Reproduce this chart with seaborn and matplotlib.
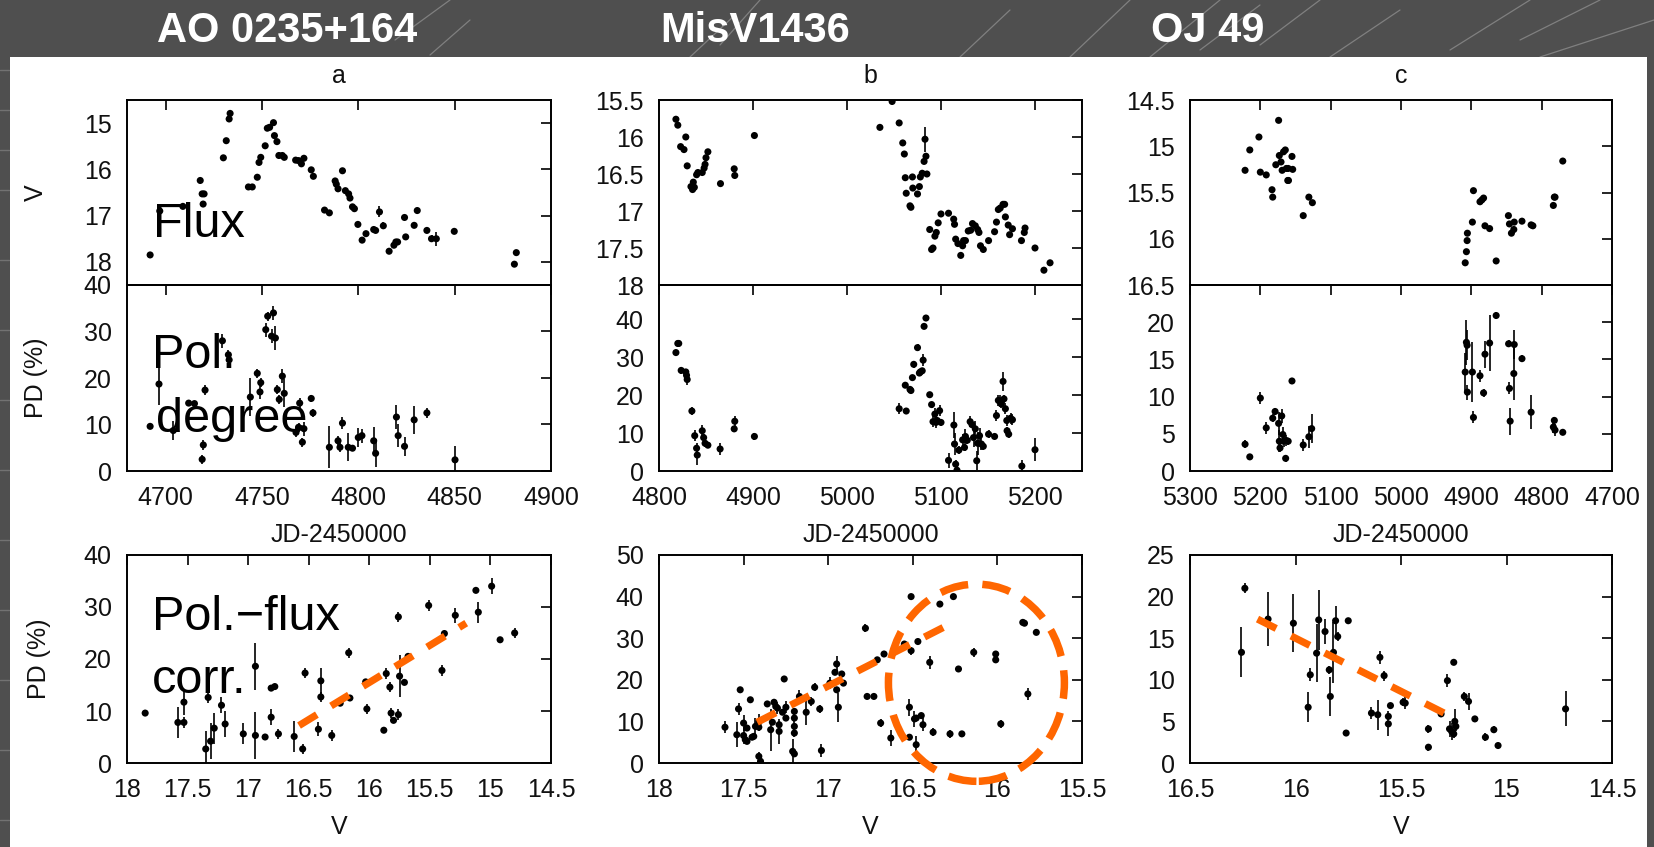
import matplotlib
matplotlib.use("Agg")
import matplotlib.pyplot as plt
import seaborn as sns
from matplotlib import font_manager
from matplotlib.patches import Ellipse, Rectangle
from matplotlib.lines import Line2D
from matplotlib.ticker import FuncFormatter, MultipleLocator

# ---------------- data ----------------
source_names = ["AO 0235+164", "MisV1436", "OJ 49"]
panel_letters = ["a", "b", "c"]

# Panel a (AO 0235+164) light curve
a_flux_jd = [4692, 4697, 4709, 4718, 4719, 4719.5, 4720, 4730, 4731.5, 4733,
             4733.5, 4743, 4745, 4747.6, 4748.5, 4749.4, 4751.7, 4752.8, 4754, 4756,
             4756.5, 4757.8, 4758.8, 4760.6, 4761.6, 4767.5, 4769, 4770.5, 4771.8, 4775.6,
             4776.7, 4782.5, 4785, 4788, 4788.6, 4789.5, 4791.8, 4793.3, 4795, 4795.7,
             4797, 4798, 4799.8, 4802, 4804, 4808, 4809, 4811, 4813, 4816,
             4818.5, 4819.5, 4820.4, 4824, 4824.6, 4829, 4830.6, 4835.6, 4838, 4840.5,
             4849.8, 4881, 4882]
a_flux_v = [17.85, 16.9, 16.8, 16.24, 16.53, 16.75, 16.53, 15.75, 15.38, 14.91,
            14.79, 16.38, 16.38, 16.17, 15.85, 15.74, 15.49, 15.11, 15.09, 14.99,
            15.27, 15.40, 15.70, 15.70, 15.74, 15.80, 15.81, 15.88, 15.76, 16.01,
            16.15, 16.88, 16.94, 16.25, 16.32, 16.42, 16.03, 16.46, 16.53, 16.62,
            16.81, 16.85, 17.19, 17.53, 17.39, 17.30, 17.32, 16.92, 17.22, 17.77,
            17.64, 17.57, 17.57, 17.04, 17.46, 17.21, 16.89, 17.32, 17.50, 17.50,
            17.34, 18.05, 17.80]
a_flux_err = [0.03, 0.03, 0.03, 0.03, 0.03, 0.03, 0.03, 0.03, 0.03, 0.03,
              0.03, 0.03, 0.03, 0.03, 0.03, 0.03, 0.03, 0.03, 0.03, 0.03,
              0.03, 0.03, 0.03, 0.03, 0.03, 0.03, 0.03, 0.03, 0.03, 0.03,
              0.03, 0.03, 0.03, 0.07, 0.03, 0.03, 0.03, 0.03, 0.03, 0.03,
              0.03, 0.03, 0.03, 0.03, 0.03, 0.03, 0.03, 0.12, 0.08, 0.03,
              0.03, 0.03, 0.03, 0.03, 0.03, 0.03, 0.03, 0.03, 0.08, 0.15,
              0.03, 0.03, 0.03]

a_pd_jd = [4692, 4696.6, 4704, 4712, 4715, 4719, 4719.6, 4720.5, 4729.5, 4732.6,
           4733, 4744, 4747.6, 4749, 4749.4, 4752, 4753, 4755, 4756, 4757,
           4758, 4759, 4760.6, 4761.6, 4767.7, 4769, 4769.6, 4771, 4771.8, 4775.6,
           4776.5, 4785, 4789.5, 4790.5, 4791.8, 4794.8, 4797, 4800, 4801.9, 4808,
           4809, 4819.8, 4820.7, 4824, 4829, 4835.6, 4850.2]
a_pd = [9.6, 18.7, 8.7, 14.6, 14.5, 2.5, 5.6, 17.4, 28.0, 25.0,
        23.9, 15.9, 21.0, 17.0, 19.0, 30.4, 33.3, 29.0, 34.0, 28.6,
        17.5, 15.4, 20.4, 16.7, 8.3, 9.4, 14.6, 6.2, 9.1, 15.6,
        12.5, 5.1, 6.5, 5.1, 10.3, 5.1, 4.9, 7.2, 7.6, 6.5,
        3.8, 11.6, 7.6, 5.3, 11.0, 12.5, 2.4]
a_pd_err = [0.5, 4.5, 2.0, 0.5, 0.5, 1.0, 1.0, 1.0, 1.5, 1.0,
            1.0, 4.0, 1.0, 1.5, 1.0, 1.5, 1.0, 1.5, 1.5, 2.5,
            1.0, 1.0, 1.5, 3.0, 1.0, 1.0, 1.0, 1.0, 1.5, 0.8,
            0.8, 4.5, 1.0, 1.0, 1.3, 3.0, 0.5, 2.0, 1.5, 3.0,
            3.0, 2.5, 2.5, 2.0, 3.0, 1.0, 3.0]

# Panel b (MisV1436) light curve
b_flux_jd = [4818, 4820, 4823, 4826.6, 4828.5, 4830, 4834, 4835.7, 4836.5, 4837.6,
             4840, 4841.4, 4846, 4848, 4849, 4850, 4852, 4865.4, 4880, 4880.6,
             4901.5, 5035, 5048, 5055.5, 5059.3, 5061, 5062, 5063, 5067, 5068,
             5069.6, 5070, 5075, 5077, 5078, 5080, 5082, 5083, 5084, 5085,
             5088, 5090, 5091.5, 5093.5, 5095, 5097, 5100, 5108, 5113.5, 5114.4,
             5115.6, 5118, 5121, 5123, 5124, 5126, 5129, 5131.6, 5133.5, 5136.5,
             5139, 5140.4, 5142, 5145, 5150.6, 5157, 5159, 5161, 5163, 5166,
             5167.7, 5168.5, 5171.5, 5173, 5176, 5185.6, 5188.6, 5189.4, 5200, 5209.5,
             5216]
b_flux_v = [15.76, 15.84, 16.13, 16.17, 16.00, 16.39, 16.67, 16.71, 16.61, 16.68,
            16.51, 16.48, 16.48, 16.42, 16.37, 16.28, 16.20, 16.63, 16.43, 16.52,
            15.98, 15.87, 15.52, 15.81, 16.08, 16.23, 16.55, 16.76, 16.93, 16.95,
            16.54, 16.69, 16.77, 16.67, 16.54, 16.49, 16.33, 16.03, 16.26, 16.50,
            17.25, 17.52, 17.50, 17.34, 17.29, 17.16, 17.04, 17.03, 17.11, 17.18,
            17.38, 17.44, 17.60, 17.47, 17.40, 17.40, 17.27, 17.26, 17.17, 17.20,
            17.25, 17.29, 17.47, 17.52, 17.40, 17.28, 17.15, 16.98, 16.96, 16.91,
            16.91, 17.08, 17.19, 17.32, 17.24, 17.40, 17.29, 17.23, 17.50, 17.80,
            17.70]
b_flux_err = [0.02, 0.02, 0.02, 0.02, 0.02, 0.02, 0.02, 0.02, 0.02, 0.02,
              0.02, 0.02, 0.02, 0.02, 0.02, 0.02, 0.02, 0.02, 0.02, 0.02,
              0.02, 0.02, 0.02, 0.02, 0.02, 0.02, 0.02, 0.02, 0.02, 0.02,
              0.02, 0.02, 0.02, 0.02, 0.02, 0.02, 0.02, 0.17, 0.02, 0.02,
              0.02, 0.02, 0.02, 0.02, 0.02, 0.02, 0.02, 0.02, 0.02, 0.02,
              0.02, 0.02, 0.02, 0.02, 0.02, 0.02, 0.02, 0.02, 0.02, 0.02,
              0.02, 0.02, 0.02, 0.02, 0.02, 0.02, 0.02, 0.02, 0.02, 0.02,
              0.02, 0.02, 0.02, 0.02, 0.02, 0.02, 0.02, 0.02, 0.02, 0.02,
              0.02]

b_pd_jd = [4818, 4820, 4821, 4823.6, 4828.5, 4829.3, 4830, 4835, 4838, 4840,
           4840.7, 4846, 4847.5, 4849, 4852, 4865, 4880, 4880.6, 4901.5, 5055.5,
           5062, 5063, 5067, 5068, 5069.6, 5071, 5075, 5077, 5078, 5080,
           5081, 5082, 5084, 5088, 5090, 5091.5, 5093.5, 5094.6, 5096, 5098.5,
           5100, 5108, 5113.7, 5114.4, 5115.6, 5117, 5119, 5123, 5125, 5126,
           5128, 5131, 5133, 5134.6, 5136.5, 5138, 5139, 5141, 5143, 5145,
           5150.6, 5157, 5159, 5161, 5163, 5164, 5166, 5167, 5168.5, 5170,
           5170.3, 5172, 5174, 5176, 5186, 5200]
b_pd = [31.2, 33.6, 33.6, 26.5, 26.1, 25.2, 24.1, 15.8, 9.3, 6.0,
        4.2, 10.6, 8.8, 7.3, 6.8, 5.8, 11.1, 13.1, 9.1, 16.4,
        22.6, 15.8, 21.5, 21.2, 24.6, 28.1, 32.5, 25.8, 26.1, 26.4,
        29.2, 38.1, 40.3, 20.1, 17.5, 13.0, 15.0, 12.8, 13.3, 15.9,
        12.8, 2.8, 12.1, 7.1, 1.8, 0.2, 5.5, 8.2, 6.2, 9.1,
        8.1, 13.0, 12.2, 8.8, 11.1, 2.7, 7.3, 9.3, 7.1, 6.5,
        9.7, 9.1, 14.6, 18.6, 18.4, 17.7, 23.6, 19.0, 16.4, 13.3,
        10.6, 9.7, 13.9, 13.5, 1.3, 5.6]
b_pd_err = [0.5, 0.5, 0.5, 1.0, 0.8, 1.0, 1.5, 1.0, 1.5, 1.5,
            2.5, 1.5, 1.0, 1.0, 0.8, 1.5, 0.5, 1.5, 1.0, 1.5,
            0.5, 0.5, 0.5, 0.5, 0.5, 1.0, 1.0, 0.8, 0.8, 0.8,
            1.5, 0.8, 0.8, 0.8, 0.8, 1.5, 1.5, 1.5, 1.0, 1.5,
            1.0, 2.0, 3.5, 3.0, 1.0, 1.0, 1.0, 1.5, 1.0, 2.0,
            1.0, 1.5, 1.0, 2.5, 2.0, 2.5, 3.0, 2.0, 1.5, 1.0,
            1.0, 0.5, 1.5, 1.5, 1.5, 1.0, 2.5, 1.0, 1.5, 1.5,
            1.0, 1.0, 1.5, 1.5, 1.5, 3.0]

# Panel c (OJ 49) light curve
c_flux_jd = [5221.7, 5215, 5202, 5200, 5191.6, 5183.4, 5182.4, 5178, 5174, 5173,
             5170.6, 5169, 5167, 5164.5, 5163, 5160.4, 5161, 5160, 5155, 5154,
             5139, 5131, 5126, 4908.7, 4907, 4906, 4905.6, 4898.5, 4897, 4887.7,
             4885, 4882.6, 4880.6, 4874, 4864.7, 4847.3, 4845.8, 4843, 4839, 4839.6,
             4828, 4815, 4812.5, 4783.4, 4782, 4781, 4770]
c_flux_v = [15.26, 15.04, 14.90, 15.28, 15.31, 15.47, 15.55, 15.20, 14.72, 15.10,
            15.17, 15.26, 15.06, 15.04, 15.24, 15.24, 15.37, 15.37, 15.11, 15.25,
            15.75, 15.55, 15.61, 16.26, 16.14, 16.02, 15.94, 15.82, 15.48, 15.60,
            15.58, 15.56, 15.86, 15.89, 16.24, 15.75, 15.84, 15.94, 15.82, 15.90,
            15.81, 15.85, 15.86, 15.64, 15.55, 15.55, 15.16]

c_pd_jd = [5221.7, 5215, 5200, 5191.6, 5182.4, 5179, 5174, 5173, 5172, 5169.6,
           5168, 5167, 5164, 5163, 5160.4, 5155, 5139, 5131, 5127, 4908.7,
           4907, 4906, 4905.6, 4898.5, 4897, 4887.7, 4882.6, 4880.6, 4874, 4864.7,
           4847, 4845.8, 4844.8, 4839, 4839.6, 4828, 4815, 4783.4, 4782, 4781,
           4770]
c_pd = [3.6, 1.9, 9.8, 5.8, 7.1, 8.0, 6.4, 4.0, 3.1, 7.4,
        4.9, 4.0, 1.7, 4.1, 4.0, 12.1, 3.5, 4.6, 5.7, 13.3,
        17.3, 16.9, 10.6, 13.3, 7.2, 12.8, 10.5, 15.7, 17.2, 20.9,
        17.1, 11.1, 6.7, 17.0, 13.1, 15.1, 7.9, 5.9, 6.8, 5.5,
        5.2]
c_pd_err = [0.5, 0.3, 0.8, 0.8, 0.5, 0.5, 1.5, 1.5, 0.5, 1.0,
            1.0, 0.8, 0.5, 0.8, 0.5, 0.3, 0.8, 1.5, 2.0, 2.5,
            3.0, 2.0, 1.0, 4.0, 0.8, 0.8, 0.5, 1.8, 3.8, 0.5,
            0.5, 0.8, 1.8, 2.0, 3.5, 0.5, 2.3, 0.8, 0.5, 0.8,
            0.3]

# Bottom row: PD versus V
a_corr_v = [17.85, 17.58, 17.53, 17.53, 17.35, 17.33, 17.31, 17.28, 17.22, 17.19,
            17.04, 16.94, 16.94, 16.86, 16.81, 16.81, 16.78, 16.75, 16.62, 16.55,
            16.53, 16.42, 16.40, 16.40, 16.31, 16.24, 16.17, 16.16, 16.03, 16.02,
            15.88, 15.86, 15.83, 15.82, 15.80, 15.76, 15.76, 15.75, 15.71, 15.68,
            15.51, 15.40, 15.38, 15.29, 15.12, 15.10, 14.99, 14.92, 14.80]
a_corr_pd = [9.6, 7.8, 7.8, 11.7, 2.7, 12.6, 4.2, 6.7, 11.1, 7.5,
             5.6, 18.6, 5.3, 5.0, 8.8, 14.4, 14.7, 5.6, 5.1, 2.7,
             17.3, 6.5, 15.8, 12.7, 5.3, 11.5, 21.2, 12.5, 15.6, 10.4,
             6.3, 17.2, 14.6, 9.6, 8.2, 9.3, 28.1, 16.7, 15.5, 20.5,
             30.3, 17.8, 24.9, 28.4, 33.2, 29.0, 34.0, 23.7, 25.0]
a_corr_err = [0.5, 3.0, 1.0, 2.5, 3.5, 1.0, 3.5, 3.0, 1.5, 2.5,
              2.0, 4.5, 4.5, 0.5, 1.5, 0.5, 0.5, 1.0, 3.0, 1.0,
              1.0, 1.3, 2.5, 1.0, 1.0, 0.5, 1.0, 0.5, 0.5, 1.0,
              0.5, 1.0, 1.0, 1.0, 0.5, 1.0, 1.0, 4.0, 0.5, 0.5,
              1.0, 1.0, 0.5, 1.5, 0.5, 2.0, 1.5, 0.5, 1.0]

b_corr_v = [17.61, 17.54, 17.53, 17.52, 17.50, 17.50, 17.49, 17.48, 17.48, 17.46,
            17.45, 17.44, 17.43, 17.41, 17.41, 17.41, 17.40, 17.36, 17.34, 17.33,
            17.32, 17.31, 17.30, 17.29, 17.29, 17.27, 17.26, 17.25, 17.25, 17.21,
            17.20, 17.20, 17.20, 17.20, 17.20, 17.17, 17.13, 17.10, 17.08, 17.05,
            17.04, 16.99, 16.96, 16.95, 16.95, 16.94, 16.92, 16.91, 16.78, 16.77,
            16.73, 16.71, 16.69, 16.67, 16.63, 16.55, 16.52, 16.52, 16.51, 16.51,
            16.49, 16.48, 16.48, 16.47, 16.45, 16.44, 16.40, 16.38, 16.34, 16.28,
            16.26, 16.23, 16.21, 16.14, 16.01, 16.01, 15.98, 15.85, 15.84, 15.82,
            15.77]
b_corr_pd = [8.6, 6.8, 13.0, 17.6, 9.6, 6.6, 5.6, 8.4, 5.2, 15.2,
             6.2, 6.4, 8.8, 8.6, 9.8, 1.6, 0.4, 14.2, 8.0, 9.8,
             14.6, 13.6, 13.2, 9.2, 7.6, 12.2, 20.2, 10.8, 13.4, 2.8,
             2.2, 12.4, 10.8, 8.8, 7.2, 16.0, 12.2, 14.8, 18.2, 13.0,
             3.0, 19.2, 21.8, 23.8, 17.6, 13.4, 21.4, 19.2, 32.4, 16.0,
             16.0, 24.8, 9.6, 26.2, 6.0, 28.6, 13.4, 6.2, 40.0, 27.0,
             10.6, 10.8, 4.4, 29.2, 11.4, 9.2, 24.2, 7.4, 38.2, 7.0,
             40.0, 22.6, 7.0, 26.6, 26.2, 24.8, 9.4, 33.8, 33.6, 16.6,
             31.4]
b_corr_err = [1.5, 3.0, 1.5, 0.5, 2.0, 2.0, 0.5, 0.5, 0.5, 0.5,
              0.5, 0.5, 2.0, 0.5, 2.0, 1.0, 0.5, 0.5, 5.0, 0.5,
              0.5, 0.5, 1.5, 0.5, 3.0, 0.5, 0.8, 0.5, 1.5, 3.0,
              0.5, 0.5, 1.0, 1.0, 1.0, 1.5, 3.0, 1.0, 1.0, 1.0,
              1.5, 1.5, 0.5, 2.0, 0.5, 3.5, 0.5, 0.5, 1.0, 0.5,
              0.5, 0.5, 1.0, 0.5, 2.0, 0.5, 2.0, 0.5, 0.5, 1.0,
              2.0, 0.5, 2.0, 0.5, 0.5, 1.5, 1.5, 1.0, 0.5, 1.0,
              0.5, 0.5, 0.5, 1.0, 0.5, 0.5, 1.0, 0.5, 0.5, 1.5,
              0.5]

c_corr_v = [16.256, 16.24, 16.13, 16.01, 15.94, 15.93, 15.90, 15.89, 15.86, 15.84,
            15.835, 15.82, 15.81, 15.80, 15.76, 15.75, 15.64, 15.61, 15.60, 15.58,
            15.56, 15.56, 15.55, 15.49, 15.48, 15.37, 15.37, 15.31, 15.28, 15.27,
            15.26, 15.25, 15.25, 15.245, 15.24, 15.20, 15.18, 15.15, 15.10, 15.06,
            15.04, 14.72]
c_corr_pd = [13.3, 21.0, 17.3, 16.8, 6.7, 10.6, 13.2, 17.2, 15.8, 11.2,
             8.0, 13.3, 17.1, 15.2, 3.6, 17.1, 6.0, 5.8, 12.7, 10.5,
             5.6, 4.7, 6.9, 7.3, 7.2, 4.1, 1.9, 5.9, 9.9, 4.1,
             3.8, 12.1, 3.5, 5.0, 4.4, 8.0, 7.4, 5.3, 3.1, 4.0,
             2.1, 6.5]
c_corr_err = [3.0, 0.6, 3.2, 3.5, 1.8, 0.8, 3.5, 3.6, 1.5, 0.5,
              2.3, 3.7, 1.8, 0.5, 0.4, 0.3, 0.7, 1.8, 0.8, 0.6,
              0.3, 1.5, 0.3, 0.5, 0.7, 0.5, 0.4, 0.3, 0.8, 1.0,
              1.0, 0.3, 0.5, 1.5, 0.5, 0.5, 1.0, 0.3, 0.5, 0.4,
              0.3, 2.1]

# orange trend lines (end points) and highlighted region
a_trend_v = [16.58, 15.20]
a_trend_pd = [7.2, 26.9]
b_trend_v = [17.42, 16.29]
b_trend_pd = [9.8, 33.2]
c_trend_v = [16.18, 15.28]
c_trend_pd = [17.3, 5.8]
b_circle_center = (16.124, 19.3)
b_circle_size = (1.04, 47.4)

# tick values
a_flux_ticks = [15, 16, 17, 18]
b_flux_ticks = [15.5, 16, 16.5, 17, 17.5, 18]
c_flux_ticks = [14.5, 15, 15.5, 16, 16.5]
a_pd_ticks = [0, 10, 20, 30, 40]
b_pd_ticks = [0, 10, 20, 30, 40]
c_pd_ticks = [0, 5, 10, 15, 20]

overlay_texts = ["Flux", "Pol.", "degree", "Pol.\u2212flux", "corr."]

# ---------------- style ----------------
W, H = 1654, 847
sns.set_theme(style="white")
plt.rcParams["font.family"] = ["Liberation Sans", "DejaVu Sans"]
plt.rcParams["axes.linewidth"] = 1.4
plt.rcParams["axes.edgecolor"] = "black"

ORANGE = "#FF6600"
TXT = "#111111"
TICK_FS = 18
LABEL_FS = 18

fig = plt.figure(figsize=(W / 100, H / 100), dpi=100)
fig.patch.set_facecolor("#4f4f4f")

# decorative streaks of the slide background
streaks = [(395, 40, 450, 0), (430, 55, 470, 20), (690, 57, 735, 15), (720, 45, 760, 0),
           (960, 57, 1010, 10), (1070, 57, 1130, 0), (1150, 57, 1220, 0),
           (1200, 50, 1260, 5), (1260, 45, 1320, 0), (1330, 57, 1400, 10),
           (1450, 50, 1530, 0), (1540, 57, 1654, 20), (1520, 40, 1600, 0)]
for x0, y0, x1, y1 in streaks:
    fig.add_artist(Line2D([x0 / W, x1 / W], [1 - y0 / H, 1 - y1 / H],
                          transform=fig.transFigure, color="#a8a8a8",
                          lw=0.9, alpha=0.55, zorder=0))
for yy in [70, 110, 150, 190, 260, 330, 400, 470, 540, 610, 680, 750, 820]:
    fig.add_artist(Line2D([0, 9 / W], [1 - yy / H, 1 - yy / H],
                          transform=fig.transFigure, color="#8a8a8a", lw=1, alpha=0.6, zorder=0))

fig.add_artist(Rectangle((10 / W, 0), (1647 - 10) / W, (H - 57) / H,
                         transform=fig.transFigure, facecolor="white",
                         edgecolor="none", zorder=0))

# source titles
title_family = ["Liberation Sans", "DejaVu Sans"]
title_size = 30
for cand in ["Liberation Sans Narrow", "DejaVu Sans Condensed"]:
    try:
        font_manager.findfont(font_manager.FontProperties(family=cand),
                              fallback_to_default=False)
        title_family = [cand, "Liberation Sans"]
        title_size = 34
        break
    except Exception:
        pass
for name, cx in zip(source_names, [287, 755, 1208]):
    fig.text(cx / W, 1 - 31 / H, name, color="white", fontsize=title_size,
             family=title_family, ha="center", va="center", weight="bold")


def frac(l, t, r, b):
    return [l / W, 1 - b / H, (r - l) / W, (b - t) / H]


cols = [(127, 551), (659, 1082), (1190, 1612)]
fmt = FuncFormatter(lambda v, p: "%g" % v)


def style(ax, show_xlabels=True):
    ax.set_facecolor("none")
    ax.tick_params(direction="in", length=7, width=1.2, top=True, right=True,
                   labelsize=TICK_FS, pad=11, colors="black", labelcolor=TXT,
                   labelbottom=show_xlabels)
    ax.xaxis.set_major_formatter(fmt)
    ax.yaxis.set_major_formatter(fmt)
    for s in ax.spines.values():
        s.set_linewidth(1.4)
        s.set_color("black")


def draw_points(ax, x, y, err):
    if err is not None:
        ax.errorbar(x, y, yerr=err, fmt="none", ecolor="black", elinewidth=1.2,
                    capsize=0, zorder=2)
    sns.scatterplot(x=x, y=y, ax=ax, color="black", s=26, edgecolor="none",
                    linewidth=0, zorder=3, legend=False)


light = [
    (a_flux_jd, a_flux_v, a_flux_err, a_pd_jd, a_pd, a_pd_err,
     (4680, 4900), 50, (18.5, 14.5), a_flux_ticks, (0, 40), a_pd_ticks),
    (b_flux_jd, b_flux_v, b_flux_err, b_pd_jd, b_pd, b_pd_err,
     (4800, 5250), 100, (18, 15.5), b_flux_ticks, (0, 49), b_pd_ticks),
    (c_flux_jd, c_flux_v, None, c_pd_jd, c_pd, c_pd_err,
     (5300, 4700), 100, (16.5, 14.5), c_flux_ticks, (0, 25), c_pd_ticks),
]
corr = [
    (a_corr_v, a_corr_pd, a_corr_err, (18, 14.5), (0, 40), 10, a_trend_v, a_trend_pd),
    (b_corr_v, b_corr_pd, b_corr_err, (18, 15.5), (0, 50), 10, b_trend_v, b_trend_pd),
    (c_corr_v, c_corr_pd, c_corr_err, (16.5, 14.5), (0, 25), 5, c_trend_v, c_trend_pd),
]

for i, ((l, r), L, C) in enumerate(zip(cols, light, corr)):
    (fx, fy, fe, px, py, pe, xlim, xstep, fylim, fyticks, pylim, pyticks) = L
    ax_f = fig.add_axes(frac(l, 100, r, 285))
    ax_p = fig.add_axes(frac(l, 285, r, 471))
    ax_c = fig.add_axes(frac(l, 555, r, 763))

    # flux
    draw_points(ax_f, fx, fy, fe)
    ax_f.set_xlim(*xlim)
    ax_f.set_ylim(*fylim)
    ax_f.set_yticks(fyticks)
    ax_f.xaxis.set_major_locator(MultipleLocator(xstep))
    style(ax_f, show_xlabels=False)
    ax_f.set_xlabel("")
    ax_f.set_ylabel("")
    ax_f.set_title(panel_letters[i], fontsize=LABEL_FS, pad=12, color=TXT)

    # polarization degree
    draw_points(ax_p, px, py, pe)
    ax_p.set_xlim(*xlim)
    ax_p.set_ylim(*pylim)
    ax_p.set_yticks(pyticks)
    ax_p.xaxis.set_major_locator(MultipleLocator(xstep))
    style(ax_p)
    ax_p.set_ylabel("")
    ax_p.set_xlabel("JD-2450000", fontsize=LABEL_FS, color=TXT, va="center")
    ax_p.xaxis.set_label_coords(0.5, -0.344)

    # correlation
    cv, cp, ce, cxlim, cylim, cystep, tv, tp = C
    draw_points(ax_c, cv, cp, ce)
    ax_c.plot(tv, tp, color=ORANGE, lw=5.2, dashes=(2.9, 2.3), zorder=4,
              solid_capstyle="butt", dash_capstyle="butt")
    ax_c.set_xlim(*cxlim)
    ax_c.set_ylim(*cylim)
    ax_c.xaxis.set_major_locator(MultipleLocator(0.5))
    ax_c.yaxis.set_major_locator(MultipleLocator(cystep))
    style(ax_c)
    ax_c.set_ylabel("")
    ax_c.set_xlabel("V", fontsize=LABEL_FS, color=TXT, va="center")
    ax_c.xaxis.set_label_coords(0.5, -0.308)

    if i == 0:
        ax_f.set_ylabel("V", fontsize=LABEL_FS, color=TXT, va="center")
        ax_f.yaxis.set_label_coords(-0.215, 0.5)
        ax_p.set_ylabel("PD (%)", fontsize=LABEL_FS, color=TXT, va="center")
        ax_p.yaxis.set_label_coords(-0.215, 0.5)
        ax_c.set_ylabel("PD (%)", fontsize=LABEL_FS, color=TXT, va="center")
        ax_c.yaxis.set_label_coords(-0.208, 0.5)
        big = dict(fontsize=35, color="black", va="baseline", ha="left", zorder=5)
        ax_f.text(0.061, 0.26, overlay_texts[0], transform=ax_f.transAxes, **big)
        ax_p.text(0.059, 0.554, overlay_texts[1], transform=ax_p.transAxes, **big)
        ax_p.text(0.069, 0.21, overlay_texts[2], transform=ax_p.transAxes, **big)
        ax_c.text(0.059, 0.64, overlay_texts[3], transform=ax_c.transAxes, **big)
        ax_c.text(0.059, 0.337, overlay_texts[4], transform=ax_c.transAxes, **big)
    if i == 1:
        ell = Ellipse(b_circle_center, b_circle_size[0], b_circle_size[1],
                      fill=False, edgecolor=ORANGE, lw=5.4, linestyle=(0, (3.8, 1.9)),
                      clip_on=False, zorder=4)
        ax_c.add_patch(ell)

fig.savefig("out.png", dpi=100, facecolor=fig.get_facecolor())
